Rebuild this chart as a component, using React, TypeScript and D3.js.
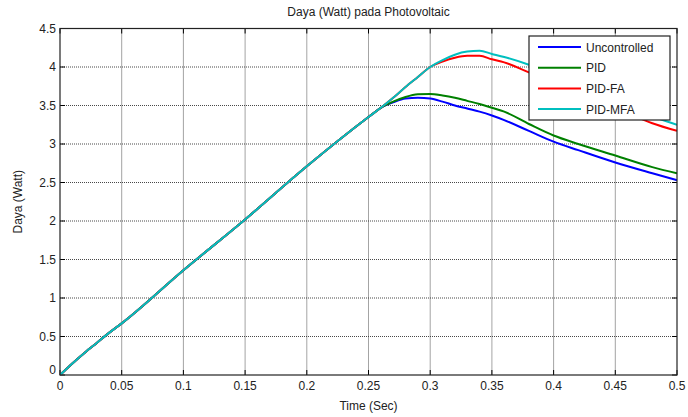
import React from "react";
import * as d3 from "d3";

const time = [0, 0.01, 0.02, 0.03, 0.04, 0.05, 0.1, 0.15, 0.2, 0.25, 0.26, 0.27, 0.28, 0.29, 0.3, 0.31, 0.32, 0.33, 0.34, 0.35, 0.36, 0.38, 0.4, 0.42, 0.45, 0.48, 0.5];
const uncontrolled = [0, 0.15, 0.29, 0.42, 0.55, 0.67, 1.36, 2.02, 2.71, 3.35, 3.47, 3.54, 3.59, 3.6, 3.59, 3.55, 3.5, 3.46, 3.42, 3.37, 3.31, 3.17, 3.03, 2.92, 2.76, 2.62, 2.53];
const pid = [0, 0.15, 0.29, 0.42, 0.55, 0.67, 1.36, 2.02, 2.71, 3.35, 3.47, 3.55, 3.61, 3.645, 3.65, 3.63, 3.6, 3.56, 3.52, 3.47, 3.42, 3.26, 3.11, 3.0, 2.85, 2.7, 2.62];
const pidFa = [0, 0.15, 0.29, 0.42, 0.55, 0.67, 1.36, 2.02, 2.71, 3.35, 3.47, 3.6, 3.74, 3.87, 4.0, 4.07, 4.12, 4.145, 4.145, 4.1, 4.06, 3.93, 3.8, 3.67, 3.47, 3.27, 3.17];
const pidMfa = [0, 0.15, 0.29, 0.42, 0.55, 0.67, 1.36, 2.02, 2.71, 3.35, 3.47, 3.6, 3.74, 3.87, 4.0, 4.09, 4.16, 4.2, 4.21, 4.17, 4.13, 4.03, 3.91, 3.78, 3.58, 3.36, 3.25];

const seriesNames = ["Uncontrolled", "PID", "PID-FA", "PID-MFA"];
const seriesColors = ["#0000ff", "#008000", "#ff0000", "#00bfbf"];
const seriesData = [uncontrolled, pid, pidFa, pidMfa];

const xTicks = [0, 0.05, 0.1, 0.15, 0.2, 0.25, 0.3, 0.35, 0.4, 0.45, 0.5];
const yTicks = [0, 0.5, 1, 1.5, 2, 2.5, 3, 3.5, 4, 4.5];

const W = 688, H = 417;
const L = 60, R = 677, T = 28.5, B = 375;
const FONT = "'Liberation Sans', Arial, Helvetica, sans-serif";

export default function App() {
  const x = d3.scaleLinear().domain([0, 0.5]).range([L, R]);
  const y = d3.scaleLinear().domain([0, 4.5]).range([B, T]);
  const line = (vals: number[]) =>
    d3.line<number>().x((_, i) => x(time[i])).y((d) => y(d)).curve(d3.curveMonotoneX)(vals) || "";
  const fmt = (v: number) => String(v);

  return (
    <svg width={W} height={H} style={{ position: "absolute", left: 0, top: 0, background: "#fff" }} fontFamily={FONT}>
      <rect x={0} y={0} width={W} height={H} fill="#fff" />
      <rect x={L} y={T} width={R - L} height={B - T} fill="#fff" />
      {/* grid */}
      {xTicks.slice(1, -1).map((t) => (
        <line key={"gx" + t} x1={x(t)} x2={x(t)} y1={T} y2={B} stroke="#333" strokeWidth={0.9} strokeDasharray="1 1" />
      ))}
      {yTicks.slice(1, -1).map((t) => (
        <line key={"gy" + t} x1={L} x2={R} y1={y(t)} y2={y(t)} stroke="#333" strokeWidth={0.9} strokeDasharray="1 1" />
      ))}
      {/* ticks */}
      {xTicks.map((t) => (
        <g key={"tx" + t}>
          <line x1={x(t)} x2={x(t)} y1={B} y2={B - 5} stroke="#000" strokeWidth={1} />
          <line x1={x(t)} x2={x(t)} y1={T} y2={T + 5} stroke="#000" strokeWidth={1} />
          <text x={x(t)} y={B + 15} fontSize={12} textAnchor="middle" fill="#222">{fmt(t)}</text>
        </g>
      ))}
      {yTicks.map((t) => (
        <g key={"ty" + t}>
          <line x1={L} x2={L + 5} y1={y(t)} y2={y(t)} stroke="#000" strokeWidth={1} />
          <line x1={R} x2={R - 5} y1={y(t)} y2={y(t)} stroke="#000" strokeWidth={1} />
          <text x={L - 4} y={t === 0 ? y(t) - 1 : y(t) + 4} fontSize={12} textAnchor="end" fill="#222">{fmt(t)}</text>
        </g>
      ))}
      {/* lines */}
      <defs>
        <clipPath id="clip"><rect x={L} y={T} width={R - L} height={B - T} /></clipPath>
      </defs>
      <g clipPath="url(#clip)">
        {seriesData.map((vals, i) => (
          <path key={seriesNames[i]} d={line(vals)} fill="none" stroke={seriesColors[i]} strokeWidth={2} strokeLinejoin="round" />
        ))}
      </g>
      {/* axes box */}
      <rect x={L} y={T} width={R - L} height={B - T} fill="none" stroke="#222" strokeWidth={1.2} />
      {/* legend */}
      <g>
        <rect x={529} y={36} width={141} height={84} fill="#fff" stroke="#222" strokeWidth={1.2} />
        {seriesNames.map((n, i) => (
          <g key={"lg" + n}>
            <line x1={538} x2={581} y1={47 + i * 20.7} y2={47 + i * 20.7} stroke={seriesColors[i]} strokeWidth={2} />
            <text x={586} y={47 + i * 20.7 + 4.5} fontSize={12} fill="#222">{n}</text>
          </g>
        ))}
      </g>
      {/* titles */}
      <text x={(L + R) / 2} y={16} fontSize={12} textAnchor="middle" fill="#222">Daya (Watt) pada Photovoltaic</text>
      <text x={(L + R) / 2} y={410} fontSize={12} textAnchor="middle" fill="#222">Time (Sec)</text>
      <text transform={`translate(22,${(T + B) / 2}) rotate(-90)`} fontSize={12} textAnchor="middle" fill="#222">Daya (Watt)</text>
    </svg>
  );
}
